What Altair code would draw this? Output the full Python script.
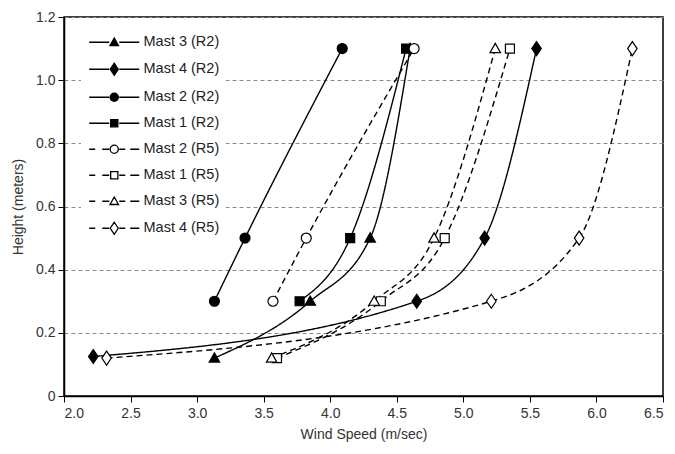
import altair as alt
import pandas as pd

# ---- data ----
series_order = ["Mast 3 (R2)", "Mast 4 (R2)", "Mast 2 (R2)", "Mast 1 (R2)",
                "Mast 2 (R5)", "Mast 1 (R5)", "Mast 3 (R5)", "Mast 4 (R5)"]

mast3_r2_x = [3.13, 3.85, 4.30, 4.60]
mast3_r2_y = [0.12, 0.30, 0.50, 1.10]
mast4_r2_x = [2.22, 4.65, 5.16, 5.55]
mast4_r2_y = [0.125, 0.30, 0.50, 1.10]
mast2_r2_x = [3.13, 3.36, 4.09]
mast2_r2_y = [0.30, 0.50, 1.10]
mast1_r2_x = [3.77, 4.15, 4.57]
mast1_r2_y = [0.30, 0.50, 1.10]
mast2_r5_x = [3.57, 3.82, 4.63]
mast2_r5_y = [0.30, 0.50, 1.10]
mast1_r5_x = [3.60, 4.38, 4.86, 5.35]
mast1_r5_y = [0.12, 0.30, 0.50, 1.10]
mast3_r5_x = [3.56, 4.33, 4.78, 5.24]
mast3_r5_y = [0.12, 0.30, 0.50, 1.10]
mast4_r5_x = [2.32, 5.21, 5.87, 6.27]
mast4_r5_y = [0.12, 0.30, 0.50, 1.10]

series_data = {
    "Mast 3 (R2)": (mast3_r2_x, mast3_r2_y),
    "Mast 4 (R2)": (mast4_r2_x, mast4_r2_y),
    "Mast 2 (R2)": (mast2_r2_x, mast2_r2_y),
    "Mast 1 (R2)": (mast1_r2_x, mast1_r2_y),
    "Mast 2 (R5)": (mast2_r5_x, mast2_r5_y),
    "Mast 1 (R5)": (mast1_r5_x, mast1_r5_y),
    "Mast 3 (R5)": (mast3_r5_x, mast3_r5_y),
    "Mast 4 (R5)": (mast4_r5_x, mast4_r5_y),
}

rows = []
for name, (xs, ys) in series_data.items():
    run = "R2" if "R2" in name else "R5"
    for x, y in zip(xs, ys):
        rows.append({"series": name, "run": run, "speed": x, "height": y})
df = pd.DataFrame(rows)
legend_df = pd.DataFrame({"series": series_order})

# ---- marker shapes ----
tri = "M0,-1.05L1.05,0.8L-1.05,0.8Z"
dia = "M0,-1.4L0.95,0L0,1.4L-0.95,0Z"
cir = "M-1,0A1,1,0,1,1,1,0A1,1,0,1,1,-1,0Z"
sqr = "M-0.9,-0.9H0.9V0.9H-0.9Z"
data_shapes = [tri, dia, cir, sqr, cir, sqr, tri, dia]
fills = ["black"] * 4 + ["white"] * 4
strokes = ["black"] * 8


def legend_path(marker, dashed):
    # drawing from x=-1 to x=9 (units), marker centred at x=4
    c = 4.0
    if dashed:
        line = "M-1,0H0.2M1.6,0H3M5,0H6.2M7.2,0H9"
    else:
        line = "M-1,0H3M5,0H9"
    m = {
        "tri": "M%.2f,-0.85L%.2f,0.65L%.2f,0.65Z" % (c, c + 0.85, c - 0.85),
        "dia": "M%.2f,-1.2L%.2f,0L%.2f,1.2L%.2f,0Z" % (c, c + 0.8, c, c - 0.8),
        "cir": "M%.2f,0A0.82,0.82,0,1,1,%.2f,0A0.82,0.82,0,1,1,%.2f,0Z" % (c - 0.82, c + 0.82, c - 0.82),
        "sqr": "M%.2f,-0.72H%.2fV0.72H%.2fZ" % (c - 0.72, c + 0.72, c - 0.72),
    }[marker]
    return line + m


legend_shapes = [legend_path("tri", False), legend_path("dia", False),
                 legend_path("cir", False), legend_path("sqr", False),
                 legend_path("cir", True), legend_path("sqr", True),
                 legend_path("tri", True), legend_path("dia", True)]

font = "Liberation Sans"

x_enc = alt.X("speed:Q", title="Wind Speed (m/sec)",
              scale=alt.Scale(domain=[2.0, 6.5], nice=False),
              axis=alt.Axis(values=[2.0, 2.5, 3.0, 3.5, 4.0, 4.5, 5.0, 5.5, 6.0, 6.5],
                            format=".1f", grid=False, titleY=38, titleBaseline="middle",
                            labelPadding=4))
y_enc = alt.Y("height:Q", title="Height (meters)",
              scale=alt.Scale(domain=[0, 1.2], nice=False),
              axis=alt.Axis(values=[0, 0.2, 0.4, 0.6, 0.8, 1.0, 1.2],
                            labelExpr="datum.value == 0 ? '0' : format(datum.value, '.1f')",
                            grid=True, gridDash=[4, 3], gridColor="#8a8a8a", gridWidth=1,
                            titleX=-46, titleBaseline="middle", labelPadding=3))

lines = alt.Chart(df).mark_line(interpolate="monotone", color="black", strokeWidth=1.4).encode(
    x=x_enc, y=y_enc,
    detail="series:N",
    order="height:Q",
    strokeDash=alt.StrokeDash("run:N", scale=alt.Scale(domain=["R2", "R5"], range=[[1, 0], [6, 4]]),
                              legend=None),
)

points = alt.Chart(df).mark_point(size=100, stroke="black", strokeWidth=1.2, opacity=1).encode(
    x="speed:Q", y="height:Q",
    shape=alt.Shape("series:N", scale=alt.Scale(domain=series_order, range=data_shapes), legend=None),
    fill=alt.Fill("series:N", scale=alt.Scale(domain=series_order, range=fills), legend=None),
)

leg = alt.Legend(title=None, orient="none", legendX=17, legendY=12,
                 symbolSize=100, symbolStrokeWidth=1.3,
                 symbolOpacity=1, labelOffset=42, rowPadding=11, padding=6,
                 fillColor="white", labelFont=font, labelFontSize=14.5, labelColor="#222",
                 labelLimit=200)

legend_layer = alt.Chart(legend_df).mark_point(size=0, strokeWidth=1.3).encode(
    shape=alt.Shape("series:N", scale=alt.Scale(domain=series_order, range=legend_shapes), legend=leg),
    fill=alt.Fill("series:N", scale=alt.Scale(domain=series_order, range=fills), legend=leg),
    stroke=alt.Stroke("series:N", scale=alt.Scale(domain=series_order, range=strokes), legend=leg),
)

chart = alt.layer(lines, points, legend_layer).resolve_scale(
    shape="independent", fill="independent", stroke="independent"
).properties(
    width=599, height=379,
    autosize=alt.AutoSizeParams(type="none"),
    padding={"left": 64, "top": 17, "right": 12, "bottom": 58},
    background="white",
).configure_view(
    stroke="black", strokeWidth=1.5
).configure_axis(
    domainColor="black", domainWidth=1.5, tickColor="black", tickSize=6, tickWidth=1,
    labelFont=font, labelFontSize=14, labelColor="#333",
    titleFont=font, titleFontSize=14, titleColor="#333", titleFontWeight="normal",
)

chart.save("out.html", embed_options={"renderer": "svg", "actions": False})
